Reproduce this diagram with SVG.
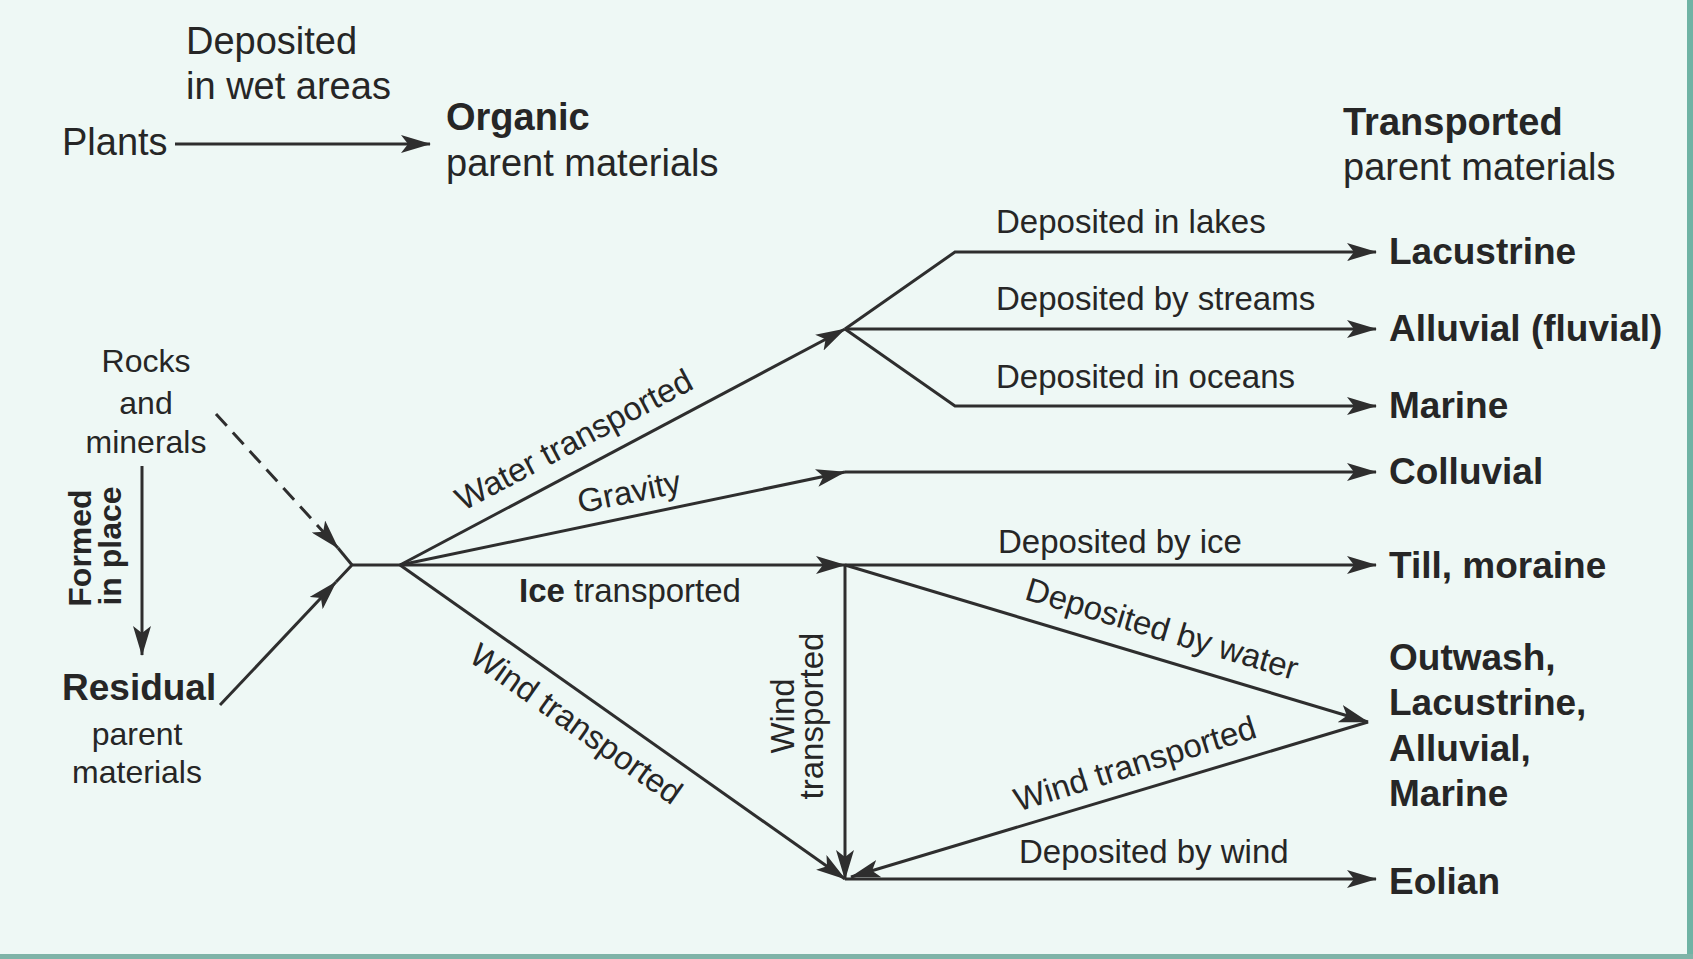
<svg xmlns="http://www.w3.org/2000/svg" width="1693" height="959" viewBox="0 0 1693 959">
<defs>
<style>
.t{font-family:"Liberation Sans",Arial,sans-serif;fill:#262626}
.big{font-size:38px}
.bb{font-size:37px;font-weight:bold}
.sm{font-size:33px}
.md{font-size:32px}
.ln{stroke:#2e2e2e;stroke-width:3;fill:none}
.dash{stroke-dasharray:16 9}
</style>
<marker id="arr" markerUnits="userSpaceOnUse" markerWidth="30" markerHeight="18" viewBox="0 0 30 18" refX="29" refY="9" orient="auto">
<path d="M0,0 L30,9 L0,18 L7,9 Z" fill="#2e2e2e"/>
</marker>
</defs>
<rect x="0" y="0" width="1693" height="959" fill="#eef8f5"/>
<rect x="1687" y="0" width="6" height="959" fill="#6fb3a4"/>
<rect x="0" y="954" width="1693" height="5" fill="#7fb4a8"/>

<g id="connectors">
<path class="ln" d="M175,144 L430,144" marker-end="url(#arr)"/>
<path class="ln" d="M142,466 L142,655" marker-end="url(#arr)"/>
<path class="ln dash" d="M216,414 L338,548" marker-end="url(#arr)"/>
<path class="ln" d="M338,548 L352,565"/>
<path class="ln" d="M220,705 L336,582" marker-end="url(#arr)"/>
<path class="ln" d="M336,582 L352,565 L400,565"/>
<path class="ln" d="M400,565 L845,329" marker-end="url(#arr)"/>
<path class="ln" d="M400,565 L845,472" marker-end="url(#arr)"/>
<path class="ln" d="M845,472 L1376,472" marker-end="url(#arr)"/>
<path class="ln" d="M400,565 L845,565" marker-end="url(#arr)"/>
<path class="ln" d="M845,565 L1376,565" marker-end="url(#arr)"/>
<path class="ln" d="M400,565 L845,879" marker-end="url(#arr)"/>
<path class="ln" d="M845,329 L955,252 L1376,252" marker-end="url(#arr)"/>
<path class="ln" d="M845,329 L1376,329" marker-end="url(#arr)"/>
<path class="ln" d="M845,329 L955,406 L1376,406" marker-end="url(#arr)"/>
<path class="ln" d="M845,565 L845,879" marker-end="url(#arr)"/>
<path class="ln" d="M845,565 L1368,722" marker-end="url(#arr)"/>
<path class="ln" d="M1368,722 L851,877" marker-end="url(#arr)"/>
<path class="ln" d="M845,879 L1376,879" marker-end="url(#arr)"/>
</g>

<g id="label-wet">
<text class="t big" x="186" y="54">Deposited</text>
<text class="t big" x="186" y="99">in wet areas</text>
</g>
<g id="node-plants"><text class="t big" x="62" y="155">Plants</text></g>
<g id="node-organic">
<text class="t big" x="446" y="130" font-weight="bold">Organic</text>
<text class="t big" x="446" y="176">parent materials</text>
</g>
<g id="node-transported">
<text class="t big" x="1343" y="135" font-weight="bold">Transported</text>
<text class="t big" x="1343" y="180">parent materials</text>
</g>
<g id="node-rocks">
<text class="t md" x="146" y="372" text-anchor="middle">Rocks</text>
<text class="t md" x="146" y="414" text-anchor="middle">and</text>
<text class="t md" x="146" y="453" text-anchor="middle">minerals</text>
</g>
<g id="label-formed">
<text class="t md" font-weight="bold" transform="translate(91,548) rotate(-90)" text-anchor="middle">Formed</text>
<text class="t md" font-weight="bold" transform="translate(121,546) rotate(-90)" text-anchor="middle">in place</text>
</g>
<g id="node-residual">
<text class="t bb" x="62" y="700">Residual</text>
<text class="t md" x="137" y="745" text-anchor="middle">parent</text>
<text class="t md" x="137" y="783" text-anchor="middle">materials</text>
</g>
<g id="edge-labels">
<text class="t sm" transform="translate(574,440) rotate(-28)" x="0" y="11" text-anchor="middle">Water transported</text>
<text class="t sm" transform="translate(629,492) rotate(-11.6)" x="0" y="11" text-anchor="middle">Gravity</text>
<text class="t sm" x="519" y="602"><tspan font-weight="bold">Ice</tspan> transported</text>
<text class="t sm" transform="translate(576,724) rotate(35.4)" x="0" y="11" text-anchor="middle">Wind transported</text>
<text class="t sm" x="996" y="233">Deposited in lakes</text>
<text class="t sm" x="996" y="310">Deposited by streams</text>
<text class="t sm" x="996" y="388">Deposited in oceans</text>
<text class="t sm" x="998" y="553">Deposited by ice</text>
<text class="t sm" transform="translate(1162,629) rotate(16.7)" x="0" y="11" text-anchor="middle">Deposited by water</text>
<text class="t sm" transform="translate(1135,764) rotate(-17.3)" x="0" y="11" text-anchor="middle">Wind transported</text>
<text class="t sm" transform="translate(794,716) rotate(-90)" text-anchor="middle">Wind</text>
<text class="t sm" transform="translate(823,716) rotate(-90)" text-anchor="middle">transported</text>
<text class="t sm" x="1019" y="863">Deposited by wind</text>
</g>
<g id="node-lacustrine"><text class="t bb" x="1389" y="264">Lacustrine</text></g>
<g id="node-alluvial"><text class="t bb" x="1389" y="341">Alluvial (fluvial)</text></g>
<g id="node-marine"><text class="t bb" x="1389" y="418">Marine</text></g>
<g id="node-colluvial"><text class="t bb" x="1389" y="484">Colluvial</text></g>
<g id="node-till"><text class="t bb" x="1389" y="578">Till, moraine</text></g>
<g id="node-outwash">
<text class="t bb" x="1389" y="670">Outwash,</text>
<text class="t bb" x="1389" y="715">Lacustrine,</text>
<text class="t bb" x="1389" y="761">Alluvial,</text>
<text class="t bb" x="1389" y="806">Marine</text>
</g>
<g id="node-eolian"><text class="t bb" x="1389" y="894">Eolian</text></g>
</svg>
